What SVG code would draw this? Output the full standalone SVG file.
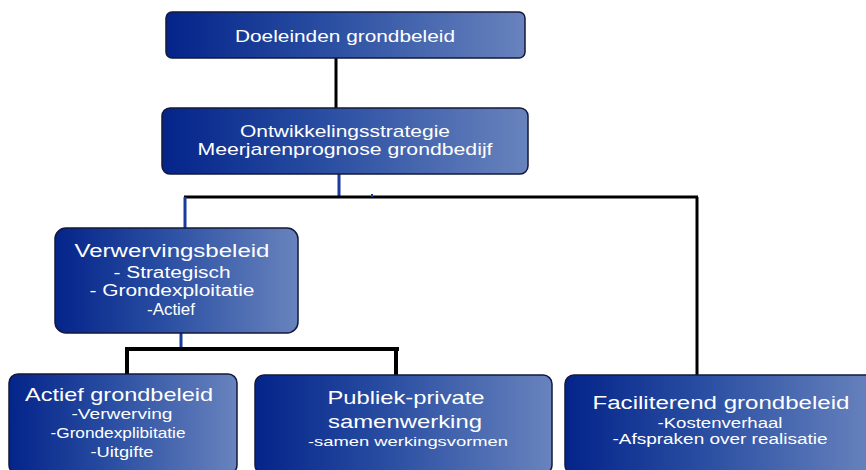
<svg xmlns="http://www.w3.org/2000/svg" width="866" height="470" viewBox="0 0 866 470">
<defs>
<linearGradient id="g" x1="0" y1="0" x2="1" y2="0">
<stop offset="0" stop-color="#04248a"/>
<stop offset="0.45" stop-color="#2a4ea2"/>
<stop offset="1" stop-color="#6883bd"/>
</linearGradient>
<style>
.box{fill:url(#g);stroke:#14183a;stroke-width:1.5}
text{font-family:"Liberation Sans",Arial,sans-serif;fill:#ffffff;text-anchor:middle}
.k{stroke:#000;fill:none}
.b{stroke:#1a3aa0;fill:none}
</style>
</defs>
<rect width="866" height="470" fill="#ffffff"/>
<g id="connectors">
<line class="k" x1="336" y1="58" x2="336" y2="108" stroke-width="3"/>
<line class="b" x1="339" y1="174" x2="339" y2="197" stroke-width="3"/>
<line class="k" x1="184" y1="197" x2="698" y2="197" stroke-width="3"/>
<line class="b" x1="185" y1="197" x2="185" y2="228" stroke-width="3"/>
<line class="b" x1="372" y1="194" x2="372" y2="197" stroke-width="2"/>
<line class="k" x1="697" y1="197" x2="697" y2="375" stroke-width="3"/>
<line class="b" x1="181" y1="333" x2="181" y2="348" stroke-width="3"/>
<line class="k" x1="125" y1="349" x2="399" y2="349" stroke-width="4"/>
<line class="k" x1="127" y1="349" x2="127" y2="374" stroke-width="4"/>
<line class="k" x1="396" y1="349" x2="396" y2="375" stroke-width="4"/>
</g>
<g id="doeleinden">
<rect class="box" x="166" y="12" width="359" height="46" rx="6"/>
<text x="345" y="42" font-size="17" textLength="220" lengthAdjust="spacingAndGlyphs">Doeleinden grondbeleid</text>
</g>
<g id="ontwikkelingsstrategie">
<rect class="box" x="162" y="108" width="366" height="66" rx="8"/>
<text x="345" y="137" font-size="17" textLength="210" lengthAdjust="spacingAndGlyphs">Ontwikkelingsstrategie</text>
<text x="345" y="155" font-size="17" textLength="295" lengthAdjust="spacingAndGlyphs">Meerjarenprognose grondbedijf</text>
</g>
<g id="verwervingsbeleid">
<rect class="box" x="55" y="228" width="243" height="105" rx="11"/>
<text x="172" y="257" font-size="18" textLength="195" lengthAdjust="spacingAndGlyphs">Verwervingsbeleid</text>
<text x="172" y="278" font-size="16" textLength="117" lengthAdjust="spacingAndGlyphs">- Strategisch</text>
<text x="172" y="296" font-size="16" textLength="165" lengthAdjust="spacingAndGlyphs">- Grondexploitatie</text>
<text x="171" y="315" font-size="16" textLength="48" lengthAdjust="spacingAndGlyphs">-Actief</text>
</g>
<g id="actief">
<rect class="box" x="9" y="374" width="228" height="100" rx="9"/>
<text x="119" y="401" font-size="19" textLength="188" lengthAdjust="spacingAndGlyphs">Actief grondbeleid</text>
<text x="122" y="419" font-size="15" textLength="101" lengthAdjust="spacingAndGlyphs">-Verwerving</text>
<text x="118" y="438" font-size="15" textLength="135" lengthAdjust="spacingAndGlyphs">-Grondexplibitatie</text>
<text x="122" y="457" font-size="15" textLength="63" lengthAdjust="spacingAndGlyphs">-Uitgifte</text>
</g>
<g id="publiek">
<rect class="box" x="255" y="375" width="297" height="99" rx="9"/>
<text x="406" y="404" font-size="19" textLength="157" lengthAdjust="spacingAndGlyphs">Publiek-private</text>
<text x="405" y="428" font-size="19" textLength="154" lengthAdjust="spacingAndGlyphs">samenwerking</text>
<text x="408" y="446" font-size="13" textLength="200" lengthAdjust="spacingAndGlyphs">-samen werkingsvormen</text>
</g>
<g id="faciliterend">
<rect class="box" x="565" y="375" width="310" height="99" rx="9"/>
<text x="721" y="409" font-size="18" textLength="257" lengthAdjust="spacingAndGlyphs">Faciliterend grondbeleid</text>
<text x="720" y="428" font-size="14" textLength="125" lengthAdjust="spacingAndGlyphs">-Kostenverhaal</text>
<text x="720" y="444" font-size="14" textLength="215" lengthAdjust="spacingAndGlyphs">-Afspraken over realisatie</text>
</g>
</svg>
